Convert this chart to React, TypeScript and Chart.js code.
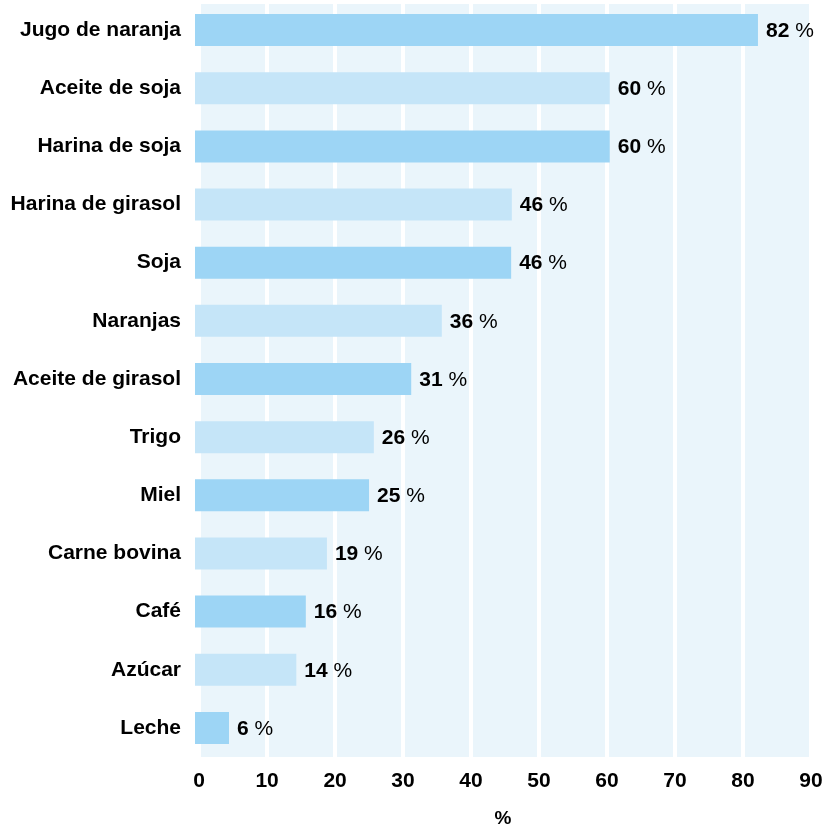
import React, { useEffect, useRef } from "react";
import { Chart, registerables } from "chart.js";
Chart.register(...registerables);

const categories = [
  "Jugo de naranja",
  "Aceite de soja",
  "Harina de soja",
  "Harina de girasol",
  "Soja",
  "Naranjas",
  "Aceite de girasol",
  "Trigo",
  "Miel",
  "Carne bovina",
  "Café",
  "Azúcar",
  "Leche",
];
const values = [82.2, 60.4, 60.4, 46, 45.9, 35.7, 31.2, 25.7, 25, 18.8, 15.7, 14.3, 4.4];
const valueLabels = ["82", "60", "60", "46", "46", "36", "31", "26", "25", "19", "16", "14", "6"];
const xTicks = [0, 10, 20, 30, 40, 50, 60, 70, 80, 90];
const axisTitle = "%";

const DARK = "#9dd5f5";
const LIGHT = "#c5e5f8";
const PANEL = "#eaf5fb";
const FONT = "'Liberation Sans', Arial, sans-serif";

export default function App() {
  const ref = useRef<HTMLCanvasElement | null>(null);
  useEffect(() => {
    if (!ref.current) return;
    const panelPlugin = {
      id: "panel",
      beforeDraw(chart: any) {
        const { ctx, chartArea, scales } = chart;
        const x0 = scales.x.getPixelForValue(xTicks[0]);
        const x1 = scales.x.getPixelForValue(xTicks[xTicks.length - 1]);
        ctx.save();
        ctx.fillStyle = PANEL;
        ctx.fillRect(x0, chartArea.top + 3, x1 - x0, chartArea.bottom - chartArea.top - 3);
        ctx.restore();
      },
    };
    const labelPlugin = {
      id: "valLabels",
      afterDatasetsDraw(chart: any) {
        const { ctx } = chart;
        const meta = chart.getDatasetMeta(0);
        ctx.save();
        ctx.textBaseline = "middle";
        ctx.textAlign = "left";
        ctx.fillStyle = "#000";
        meta.data.forEach((bar: any, i: number) => {
          const x = bar.x + 8;
          const y = bar.y + 1;
          ctx.font = `bold 21px ${FONT}`;
          const t = valueLabels[i];
          ctx.fillText(t, x, y);
          const w = ctx.measureText(t + " ").width;
          ctx.font = `normal 21px ${FONT}`;
          ctx.fillText("%", x + w, y);
        });
        ctx.restore();
      },
    };
    const chart = new Chart(ref.current, {
      type: "bar",
      data: {
        labels: categories,
        datasets: [
          {
            data: values,
            base: -0.6,
            backgroundColor: values.map((_, i) => (i % 2 === 0 ? DARK : LIGHT)),
            borderWidth: 0,
            barPercentage: 0.55,
            categoryPercentage: 1,
          } as any,
        ],
      },
      options: {
        indexAxis: "y",
        animation: false,
        responsive: false,
        maintainAspectRatio: false,
        layout: { autoPadding: false, padding: { top: 1, right: 20, bottom: 0, left: 0 } } as any,
        plugins: { legend: { display: false }, tooltip: { enabled: false } },
        scales: {
          x: {
            type: "linear",
            min: -0.6,
            max: 90,
            afterBuildTicks: (scale: any) => {
              scale.ticks = xTicks.map((v) => ({ value: v }));
            },
            afterFit: (scale: any) => {
              scale.height = 73;
              scale.paddingLeft = 0;
              scale.paddingRight = 0;
            },
            grid: { color: "#ffffff", lineWidth: 4, drawTicks: false },
            border: { display: false },
            ticks: {
              color: "#000",
              padding: 12,
              font: { family: FONT, size: 21, weight: "bold" },
            },
            title: {
              display: true,
              text: axisTitle,
              color: "#000",
              padding: { top: 13, bottom: 0 },
              font: { family: FONT, size: 19, weight: "bold" },
            },
          },
          y: {
            grid: { display: false },
            border: { display: false },
            ticks: {
              color: "#000",
              padding: 6,
              font: { family: FONT, size: 21, weight: "bold" },
            },
            afterFit: (scale: any) => {
              scale.width = 195;
              scale.paddingTop = 0;
              scale.paddingBottom = 0;
            },
          },
        },
      },
      plugins: [panelPlugin, labelPlugin],
    });
    return () => chart.destroy();
  }, []);
  return (
    <div style={{ position: "fixed", left: 0, top: 0, width: 831, height: 830 }}>
      <canvas ref={ref} width={831} height={830} style={{ width: 831, height: 830 }} />
    </div>
  );
}
